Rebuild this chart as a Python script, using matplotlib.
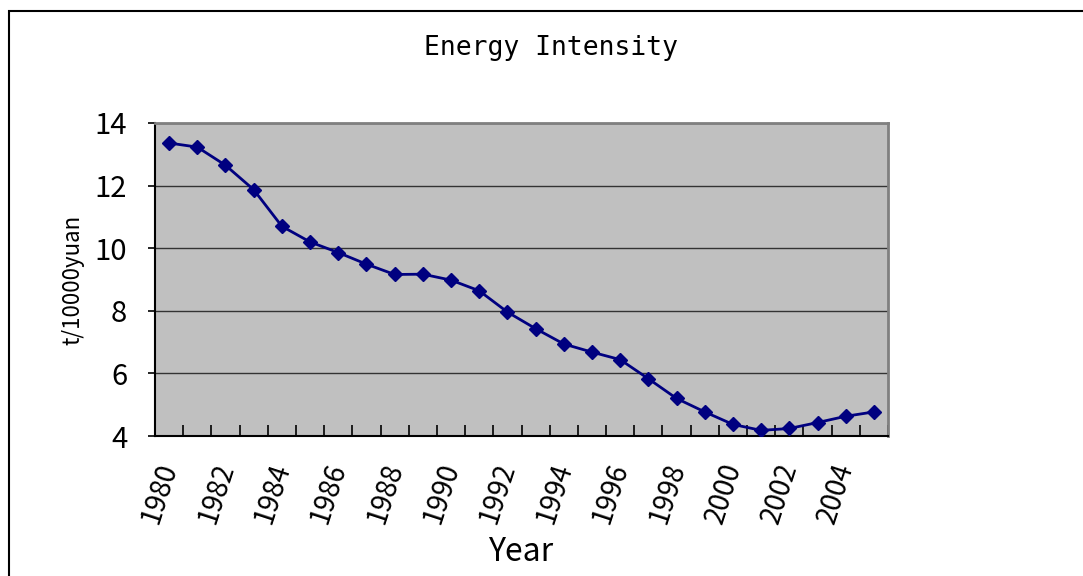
import numpy as np
import matplotlib
matplotlib.use('Agg')
import matplotlib.pyplot as plt
from matplotlib.patches import Rectangle


# Energy intensity, tonnes of coal equivalent per 10000 yuan of GDP
years = list(range(1980, 2006))
intensity = [13.36, 13.23, 12.65, 11.87, 10.70, 10.20, 9.86, 9.49, 9.16, 9.17,
             8.98, 8.64, 7.96, 7.43, 6.94, 6.68, 6.44, 5.83, 5.20, 4.77,
             4.37, 4.18, 4.24, 4.43, 4.63, 4.77]
y_ticks = [4, 6, 8, 10, 12, 14]

gothic = ['Noto Sans CJK JP', 'DejaVu Sans']

fig = plt.figure(figsize=(10.83, 5.76), dpi=100)
ax = fig.add_axes([155/1083, 1 - 436/576, 733/1083, 313/576])

x = np.arange(len(years))
ax.plot(x, intensity, color='#000080', lw=2, marker='D', markersize=7.5,
        markeredgecolor='#000080', zorder=3)

ax.set_facecolor('#C0C0C0')
ax.set_xlim(-0.5, len(years) - 0.5)
ax.set_ylim(4, 14)

# category boundaries get the tick marks, every other category gets a label
ax.set_xticks(np.arange(-0.5, len(years)))
ax.set_xticklabels([])
ax.tick_params(axis='x', which='major', direction='in', length=8, width=1.2, color='black')
ax.set_xticks(x[::2], minor=True)
ax.set_xticklabels([str(y) for y in years[::2]], minor=True, rotation=72,
                   ha='right', va='center', rotation_mode='anchor',
                   family=gothic, fontsize=20)
ax.tick_params(axis='x', which='minor', length=0, pad=20)

ax.set_yticks(y_ticks)
ax.set_yticklabels([str(v) for v in y_ticks], family=gothic, fontsize=21)
ax.tick_params(axis='y', direction='out', length=5, width=1.2, color='black', pad=15)

ax.grid(axis='y', color='#333333', lw=1)
ax.set_axisbelow(True)

for side in ['left', 'bottom']:
    ax.spines[side].set_color('black')
    ax.spines[side].set_linewidth(1.5)
for side in ['top', 'right']:
    ax.spines[side].set_color('#808080')
    ax.spines[side].set_linewidth(2)

fig.text(0.5085, 1 - 48/576, 'Energy Intensity', ha='center', va='center',
         family='DejaVu Sans Mono', fontsize=19)
fig.text(521/1083, 1 - 552/576, 'Year', ha='center', va='center',
         family=gothic, fontsize=23)
fig.text(73/1083, 1 - 280/576, 't/10000yuan', ha='center', va='center',
         rotation=90, family=gothic, fontsize=16)

# chart area frame runs off the right and bottom edges
fig.patches.append(Rectangle((9/1083, -0.2), 1.2, 1.2 - 11/576,
                             transform=fig.transFigure, fill=False,
                             edgecolor='black', lw=1.5))

fig.savefig('out.png', dpi=100)
